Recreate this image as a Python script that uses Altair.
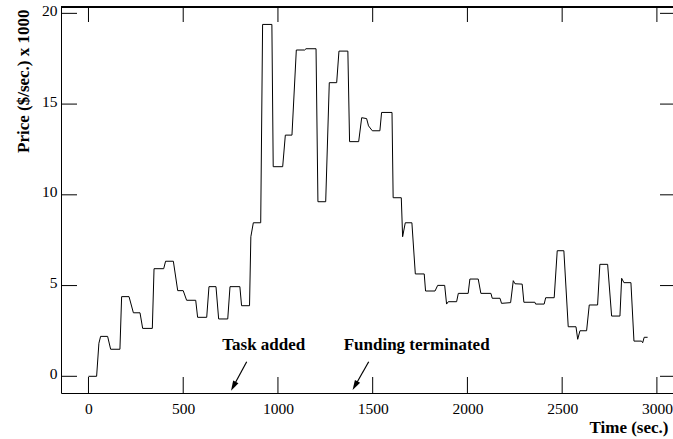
import altair as alt
import pandas as pd

# ---- data ----
time_s = [0, 43, 55, 64, 101, 117, 166, 175, 214, 237, 272, 286, 337, 346, 397, 407, 448, 471, 500, 518,
          566, 576, 624, 636, 673, 687, 735, 747, 799, 808, 850, 857, 870, 909, 919, 968, 975, 1025, 1039,
          1074, 1097, 1141, 1148, 1201, 1211, 1252, 1271, 1310, 1322, 1369, 1378, 1426, 1442, 1468, 1478,
          1498, 1538, 1547, 1602, 1608, 1651, 1658, 1672, 1707, 1725, 1772, 1779, 1829, 1843, 1880, 1890,
          1899, 1943, 1952, 2004, 2013, 2057, 2071, 2124, 2131, 2172, 2180, 2228, 2242, 2251, 2289, 2298,
          2356, 2360, 2405, 2413, 2458, 2474, 2509, 2532, 2573, 2582, 2594, 2629, 2643, 2687, 2699, 2740,
          2761, 2805, 2814, 2826, 2863, 2879, 2919, 2925, 2933, 2951]
price = [0, 0, 1.82, 2.2, 2.2, 1.49, 1.49, 4.39, 4.39, 3.5, 3.5, 2.64, 2.64, 5.93, 5.93, 6.34, 6.34, 4.72, 4.72, 4.19,
         4.19, 3.25, 3.25, 4.94, 4.94, 3.16, 3.16, 4.94, 4.94, 3.89, 3.89, 7.69, 8.46, 8.46, 19.39, 19.39, 11.55, 11.55, 13.29,
         13.29, 17.98, 17.98, 18.05, 18.05, 9.62, 9.62, 16.18, 16.18, 17.92, 17.92, 12.93, 12.93, 14.25, 14.2, 13.8,
         13.53, 13.53, 14.54, 14.54, 9.84, 9.84, 7.69, 8.46, 8.46, 5.64, 5.64, 4.70, 4.70, 5.01, 5.01, 3.98,
         4.11, 4.11, 4.57, 4.57, 5.36, 5.36, 4.57, 4.57, 4.30, 4.30, 4.02, 4.06, 5.27, 5.10, 5.08, 4.08,
         4.08, 3.98, 3.98, 4.33, 4.33, 6.92, 6.92, 2.73, 2.73, 2.04, 2.51, 2.51, 3.93, 3.93, 6.17, 6.17,
         3.32, 3.32, 5.4, 5.16, 5.16, 1.94, 1.94, 1.85, 2.15, 2.15]

x_ticks = [0, 500, 1000, 1500, 2000, 2500, 3000]
y_ticks = [0, 5, 10, 15, 20]

ann_text = ["Task added", "Funding terminated"]
ann_text_t = [925, 1732]
ann_text_v = [1.45, 1.45]
arrow_tail_t = [835, 1479]
arrow_tail_v = [0.80, 0.80]
arrow_head_t = [765, 1407]
arrow_head_v = [-0.55, -0.52]
arrow_angle = [208.4, 209.5]

W, H = 612, 386
FONT = "Liberation Serif"

xs = alt.Scale(domain=[-145, 3085], nice=False, zero=False)
ys = alt.Scale(domain=[-0.92, 20.35], nice=False, zero=False)

df = pd.DataFrame({"t": time_s, "p": price})
xt = pd.DataFrame({"t": x_ticks})
yt = pd.DataFrame({"p": y_ticks})
ann = pd.DataFrame({"label": ann_text, "t": ann_text_t, "v": ann_text_v,
                    "t0": arrow_tail_t, "v0": arrow_tail_v,
                    "t1": arrow_head_t, "v1": arrow_head_v, "ang": arrow_angle})

line = alt.Chart(df).mark_line(color="black", strokeWidth=1, clip=True).encode(
    x=alt.X("t:Q", scale=xs, axis=alt.Axis(
        title="Time (sec.)", values=x_ticks, format="d", ticks=False, tickSize=0, grid=False,
        domainColor="black", domainWidth=1, labelPadding=8, labelFontSize=15.5,
        labelFont=FONT, labelColor="black", labelBaseline="top", labelOverlap=False,
        titleFont=FONT, titleFontSize=17, titleFontWeight="bold", titleColor="black",
        titleAlign="right", titleAnchor="start", titleX=607, titleY=39, titleBaseline="alphabetic")),
    y=alt.Y("p:Q", scale=ys, axis=alt.Axis(
        title="Price ($/sec.) x 1000", values=y_ticks, format="d", ticks=False, tickSize=0, grid=False,
        domainColor="black", domainWidth=1, labelPadding=4, labelFontSize=15.5, labelOffset=-3,
        labelFont=FONT, labelColor="black",
        titleFont=FONT, titleFontSize=17, titleFontWeight="bold", titleColor="black",
        titleAngle=270, titleAlign="right", titleAnchor="start", titleX=-33, titleY=2,
        titleBaseline="alphabetic")),
)

top_border = alt.Chart(xt).mark_rule(color="black", strokeWidth=1).encode(
    x=alt.value(0), x2=alt.value(W), y=alt.value(0))

xtick_bottom = alt.Chart(xt).mark_rule(color="black", strokeWidth=1).encode(
    x=alt.X("t:Q", scale=xs), y=alt.value(H - 16), y2=alt.value(H))
xtick_top = alt.Chart(xt).mark_rule(color="black", strokeWidth=1).encode(
    x=alt.X("t:Q", scale=xs), y=alt.value(0), y2=alt.value(15))
ytick_left = alt.Chart(yt).mark_rule(color="black", strokeWidth=1).encode(
    y=alt.Y("p:Q", scale=ys), x=alt.value(0), x2=alt.value(16))
ytick_right = alt.Chart(yt).mark_rule(color="black", strokeWidth=1).encode(
    y=alt.Y("p:Q", scale=ys), x=alt.value(W - 13), x2=alt.value(W))

ann_label = alt.Chart(ann).mark_text(font=FONT, fontSize=17, fontWeight="bold",
                                     color="black", baseline="alphabetic", align="center").encode(
    x=alt.X("t:Q", scale=xs), y=alt.Y("v:Q", scale=ys), text="label:N")
arrow_shaft = alt.Chart(ann).mark_rule(color="black", strokeWidth=1.2).encode(
    x=alt.X("t0:Q", scale=xs), y=alt.Y("v0:Q", scale=ys),
    x2="t1:Q", y2="v1:Q")
arrow_head = alt.Chart(ann).mark_point(shape="M-0.6,1L0,-1L0.6,1Z", size=100, filled=True,
                                       color="black", opacity=1).encode(
    x=alt.X("t1:Q", scale=xs), y=alt.Y("v1:Q", scale=ys), angle=alt.Angle("ang:Q", scale=None))

chart = alt.layer(line, top_border, xtick_bottom, xtick_top, ytick_left, ytick_right,
                  arrow_shaft, arrow_head, ann_label).properties(
    width=W, height=H,
    autosize=alt.AutoSizeParams(type="none"),
    padding={"left": 61, "top": 7, "right": 0, "bottom": 46},
    background="white",
).configure_view(stroke=None)

chart.save("out.html", embed_options={"renderer": "svg", "actions": False})
